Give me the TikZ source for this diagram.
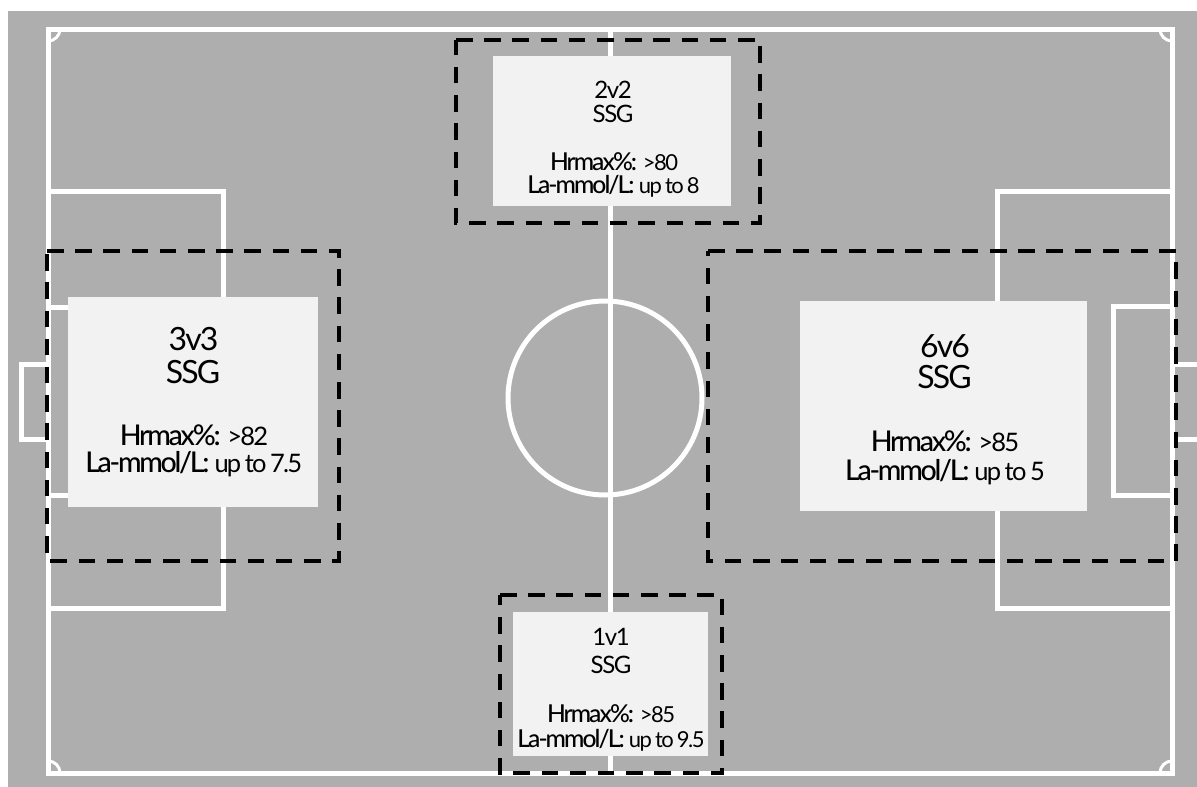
\documentclass[tikz,border=0pt]{standalone}
\usepackage{fontspec}
\setmainfont[LetterSpace=-6]{Lato}
\newfontface\lightf[LetterSpace=-7,WordSpace=0.75]{Lato}
\newfontface\medf[LetterSpace=-8,Scale=1.12]{Lato Medium}
\definecolor{pitch}{HTML}{AEAEAE}
\definecolor{panel}{HTML}{F2F2F2}
\tikzset{
  pitchline/.style={draw=white,line width=5pt},
  cornerline/.style={draw=white,line width=3pt},
  panelbox/.style={fill=panel,inner sep=0pt,outer sep=0pt},
  zone/.style={inner sep=0pt,outer sep=0pt},
  zoneline/.style={draw=black,line width=4pt,dash pattern=on 16.5pt off 11.7pt},
  txt/.style={anchor=base,inner sep=0pt,outer sep=0pt,text=black},
  bigT/.style={txt,font=\fontsize{32}{33}\selectfont},
  bigD/.style={txt,font=\fontsize{25.5}{29}\selectfont},
  midT/.style={txt,font=\fontsize{24}{25}\selectfont},
  midD/.style={txt,font=\fontsize{22}{25}\selectfont},
  smlT/.style={txt,font=\fontsize{24}{25}\selectfont},
  smlD/.style={txt,font=\fontsize{22}{25}\selectfont},
}
\newcommand{\zonebox}[5]{%
  \node[zone,minimum width=#4pt,minimum height=#5pt] (#1) at (#2,#3) {};
  \draw[zoneline] (#1.north west) -- (#1.north east) -- (#1.south east) -- (#1.south west) -- cycle;
}
\newcommand{\hrline}[1]{{\medf Hrmax\%:} {\lightf #1}}
\newcommand{\laline}[1]{{\medf La-mmol/L:} {\lightf #1}}
\begin{document}
\begin{tikzpicture}[x=1pt,y=-1pt]
\useasboundingbox (0,0) rectangle (1197,787);
\fill[pitch] (8,11) rectangle (1197,787);
% pitch markings
\node[zone] (tl) at (48,29) {};
\node[zone] (tr) at (1172,29) {};
\node[zone] (br) at (1172,773) {};
\node[zone] (bl) at (48,773) {};
\node[zone] (mt) at (610,29) {};
\node[zone] (mb) at (610,773) {};
\draw[pitchline] (tl.center) -- (tr.center) -- (br.center) -- (bl.center) -- cycle;
\draw[pitchline] (mt.center) -- (mb.center);
\draw[pitchline] (605,398) circle[radius=97];
\draw[pitchline] (48,191) -- (223,191) -- (223,608) -- (48,608);
\draw[pitchline] (1172,191) -- (997,191) -- (997,608) -- (1172,608);
\draw[pitchline] (48,307) -- (110,307) (48,495) -- (110,495);
\draw[pitchline] (1172,306) -- (1113.5,306) -- (1113.5,495) -- (1172,495);
\draw[pitchline] (48,364) -- (21,364) -- (21,439) -- (48,439);
\draw[pitchline] (1172,364) -- (1199,364) (1172,439) -- (1199,439);
\draw[cornerline] (60,29) arc[start angle=0,end angle=90,radius=12];
\draw[cornerline] (1160,29) arc[start angle=180,end angle=90,radius=12];
\draw[cornerline] (60,773) arc[start angle=0,end angle=-90,radius=12];
\draw[cornerline] (1160,773) arc[start angle=180,end angle=270,radius=12];
% panels
\node[panelbox,minimum width=250pt,minimum height=210pt] (p3) at (193,402) {};
\node[bigT] (p3a) at (193.5,350) {3v3};
\node[bigT] (p3b) at (193,383) {SSG};
\node[bigD] (p3c) at (194,445) {\hrline{>82}};
\node[bigD] (p3d) at (193.7,472) {\laline{up to 7.5}};
\node[panelbox,minimum width=287pt,minimum height=210pt] (p6) at (943.5,406) {};
\node[bigT] (p6a) at (945,357) {6v6};
\node[bigT] (p6b) at (944.5,388) {SSG};
\node[bigD] (p6c) at (945,451) {\hrline{>85}};
\node[bigD] (p6d) at (945,480) {\laline{up to 5}};
\node[panelbox,minimum width=238pt,minimum height=150pt] (p2) at (612,131) {};
\node[midT] (p2a) at (613,98) {2v2};
\node[midT] (p2b) at (613,122) {SSG};
\node[midD] (p2c) at (614,170) {\hrline{>80}};
\node[midD] (p2d) at (613.5,193) {\laline{up to 8}};
\node[panelbox,minimum width=195pt,minimum height=144pt] (p1) at (610.5,684) {};
\node[smlT] (p1a) at (611,645) {1v1};
\node[smlT] (p1b) at (611,673) {SSG};
\node[smlD] (p1c) at (611,722) {\hrline{>85}};
\node[smlD] (p1d) at (611,747) {\laline{up to 9.5}};
% dashed zones
\zonebox{z3}{193}{406}{292}{310}
\zonebox{z6}{942}{406}{468}{310}
\zonebox{z2}{608}{131.5}{304}{183}
\zonebox{z1}{611}{684}{222}{178}
\end{tikzpicture}
\end{document}
